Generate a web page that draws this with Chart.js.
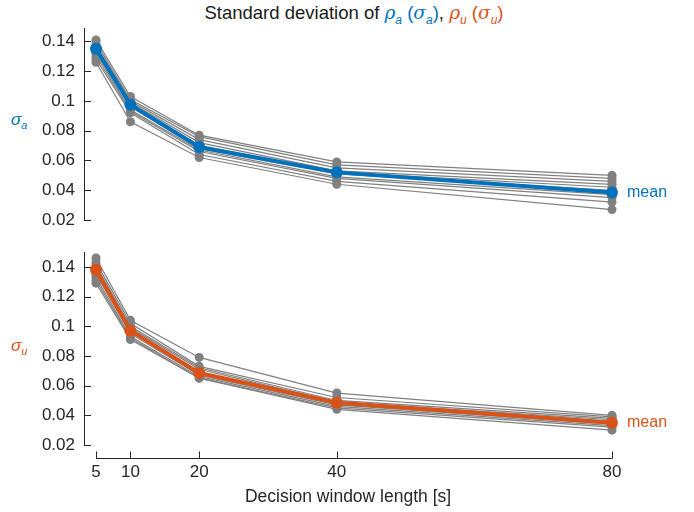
<!DOCTYPE html>
<html>
<head>
<meta charset="utf-8">
<script src="https://cdn.jsdelivr.net/npm/chart.js@4.4.1/dist/chart.umd.min.js"></script>
<style>
  body { margin: 0; background: #fff; font-family: "Liberation Sans", sans-serif; }
  #wrap { position: relative; width: 694px; height: 512px; }
  #title { position: absolute; top: 2px; left: 84px; width: 540px; text-align: center; font-size: 18.5px; color: #1a1a1a; white-space: nowrap; }
  #title i { font-family: "DejaVu Serif", serif; }
  #title sub { font-size: 12px; font-style: italic; }
  .blue { color: #0072BD; }
  .orange { color: #D95319; }
  .pane { position: absolute; left: 0; width: 694px; }
  .ylab { position: absolute; left: 11px; font-size: 17px; font-style: italic; }
  .ylab sub { font-size: 11px; }
</style>
</head>
<body>
<div id="wrap">
  <div id="title">Standard deviation of <span class="blue"><i>ρ</i><sub>a</sub> (<i>σ</i><sub>a</sub>)</span>, <span class="orange"><i>ρ</i><sub>u</sub> (<i>σ</i><sub>u</sub>)</span></div>
  <div class="pane" style="top:0;height:235px"><canvas id="topChart"></canvas></div>
  <div class="pane" style="top:240px;height:272px"><canvas id="bottomChart"></canvas></div>
  <div class="ylab blue" style="top:110px"><i>σ</i><sub>a</sub></div>
  <div class="ylab orange" style="top:336px"><i>σ</i><sub>u</sub></div>
</div>
<script>
const windowLengths = [5, 10, 20, 40, 80];
const xTickValues = [5, 10, 20, 40, 80];
const yTickValues = [0.02, 0.04, 0.06, 0.08, 0.1, 0.12, 0.14];

// per-subject std of rho_a
const sigmaASubjects = [
    [0.141, 0.103, 0.077, 0.059, 0.050],
    [0.139, 0.101, 0.076, 0.057, 0.048],
    [0.137, 0.100, 0.074, 0.055, 0.046],
    [0.136, 0.099, 0.072, 0.053, 0.044],
    [0.135, 0.097, 0.070, 0.052, 0.042],
    [0.134, 0.096, 0.068, 0.051, 0.040],
    [0.132, 0.094, 0.067, 0.049, 0.037],
    [0.130, 0.093, 0.066, 0.048, 0.035],
    [0.128, 0.092, 0.064, 0.046, 0.032],
    [0.126, 0.086, 0.062, 0.044, 0.027],
];
const sigmaAMean = [0.135, 0.0975, 0.069, 0.052, 0.0385];

// per-subject std of rho_u
const sigmaUSubjects = [
    [0.146, 0.104, 0.079, 0.055, 0.040],
    [0.143, 0.102, 0.073, 0.052, 0.039],
    [0.141, 0.100, 0.072, 0.050, 0.038],
    [0.139, 0.099, 0.071, 0.049, 0.037],
    [0.138, 0.098, 0.069, 0.049, 0.036],
    [0.137, 0.097, 0.068, 0.048, 0.035],
    [0.135, 0.095, 0.067, 0.047, 0.034],
    [0.133, 0.093, 0.066, 0.046, 0.033],
    [0.131, 0.092, 0.065, 0.045, 0.032],
    [0.129, 0.091, 0.065, 0.044, 0.030],
];
const sigmaUMean = [0.138, 0.097, 0.0685, 0.0485, 0.035];

const BLUE = '#0072BD';
const ORANGE = '#D95319';
const GRAY = '#808080';
const AXIS = '#262626';

Chart.defaults.font.family = '"Liberation Sans", sans-serif';
Chart.defaults.color = AXIS;

function points(values) {
    return windowLengths.map((x, i) => ({ x: x, y: values[i] }));
}

// axes drawn offset from the data, with inward ticks
const offsetAxes = {
    id: 'offsetAxes',
    afterDraw(chart, args, opts) {
        const { ctx, scales: { x, y } } = chart;
        const left = chart.chartArea.left;
        ctx.save();
        ctx.strokeStyle = AXIS;
        ctx.lineWidth = 1;
        ctx.beginPath();
        ctx.moveTo(left + 0.5, chart.chartArea.top);
        ctx.lineTo(left + 0.5, Math.round(y.getPixelForValue(0.02)) + 0.5);
        yTickValues.forEach(v => {
            const py = Math.round(y.getPixelForValue(v)) + 0.5;
            ctx.moveTo(left, py);
            ctx.lineTo(left + 7, py);
        });
        if (opts.xAxis) {
            const ay = Math.round(y.getPixelForValue(0.02)) + 13.5;
            ctx.moveTo(x.getPixelForValue(5), ay);
            ctx.lineTo(x.getPixelForValue(80) + 0.5, ay);
            xTickValues.forEach(v => {
                const px = Math.round(x.getPixelForValue(v)) + 0.5;
                ctx.moveTo(px, ay);
                ctx.lineTo(px, ay - 7);
            });
        }
        ctx.stroke();
        ctx.restore();
    }
};

// "mean" tag next to the last mean marker
const meanTag = {
    id: 'meanTag',
    afterDatasetsDraw(chart, args, opts) {
        const meta = chart.getDatasetMeta(0);
        const last = meta.data[meta.data.length - 1];
        const ctx = chart.ctx;
        ctx.save();
        ctx.fillStyle = opts.color;
        ctx.font = '16px "Liberation Sans", sans-serif';
        ctx.textBaseline = 'middle';
        ctx.fillText('mean', last.x + 15, last.y);
        ctx.restore();
    }
};

function makePanel(id, subjects, mean, color, yMax, showX, padding) {
    const datasets = [{
        data: points(mean),
        borderColor: color,
        backgroundColor: color,
        borderWidth: 4,
        pointRadius: 6,
        pointBorderWidth: 0,
        clip: false,
    }];
    subjects.forEach(s => datasets.push({
        data: points(s),
        borderColor: GRAY,
        backgroundColor: GRAY,
        borderWidth: 1.2,
        pointRadius: 4.5,
        pointBorderWidth: 0,
        clip: false,
    }));

    return new Chart(document.getElementById(id), {
        type: 'line',
        data: { datasets: datasets },
        options: {
            animation: false,
            responsive: true,
            maintainAspectRatio: false,
            layout: { padding: padding },
            plugins: {
                legend: { display: false },
                tooltip: { enabled: false },
                offsetAxes: { xAxis: showX },
                meanTag: { color: color },
            },
            scales: {
                x: {
                    type: 'linear',
                    min: 3.256,
                    max: 80,
                    display: showX,
                    grid: { display: false, drawTicks: false },
                    border: { display: false },
                    afterBuildTicks: s => { s.ticks = xTickValues.map(v => ({ value: v })); },
                    afterFit: s => { s.height = showX ? 67 : 0; s.paddingLeft = 0; s.paddingRight = 0; },
                    ticks: { autoSkip: false, maxRotation: 0, padding: 17, font: { size: 17 }, color: AXIS },
                    title: {
                        display: true,
                        text: 'Decision window length [s]',
                        font: { size: 17.5 },
                        color: AXIS,
                        padding: { top: 0, bottom: 4 },
                    },
                },
                y: {
                    min: 0.02,
                    max: yMax,
                    grid: { display: false, drawTicks: false },
                    border: { display: false },
                    afterBuildTicks: s => { s.ticks = yTickValues.map(v => ({ value: v })); },
                    afterFit: s => { s.width = 84; s.paddingTop = 0; s.paddingBottom = 0; },
                    ticks: {
                        autoSkip: false,
                        padding: 9,
                        font: { size: 17 },
                        color: AXIS,
                        callback: v => String(+v.toFixed(2)),
                    },
                },
            },
        },
        plugins: [offsetAxes, meanTag],
    });
}

makePanel('topChart', sigmaASubjects, sigmaAMean, BLUE, 0.149, false, { top: 28, bottom: 15, left: 0, right: 82 });
makePanel('bottomChart', sigmaUSubjects, sigmaUMean, ORANGE, 0.15, true, { top: 12, bottom: 0, left: 0, right: 82 });
</script>
</body>
</html>
